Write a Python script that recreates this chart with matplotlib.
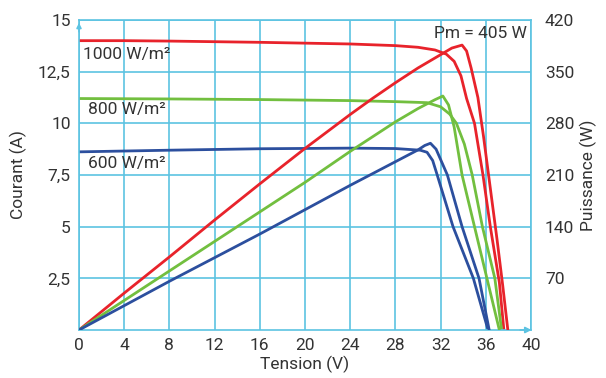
import matplotlib
matplotlib.use("Agg")
import matplotlib.pyplot as plt
from matplotlib import font_manager

# ---------------- data ----------------
# I-V curves (current in A)
v_iv_1000 = [0, 4, 8, 12, 16, 20, 24, 28, 30, 31.5, 32.5, 33.2, 33.8, 34.3, 35.0, 35.75, 36.4, 37.2, 37.6]
i_iv_1000 = [14.0, 14.0, 13.98, 13.95, 13.92, 13.88, 13.84, 13.76, 13.68, 13.55, 13.35, 13.0, 12.3, 11.2, 10.0, 7.5, 5.0, 2.3, 0]

v_iv_800 = [0, 8, 16, 24, 28, 30.8, 32.0, 32.8, 33.4, 34.1, 34.8, 35.7, 36.8, 37.4]
i_iv_800 = [11.2, 11.18, 11.15, 11.1, 11.05, 11.0, 10.8, 10.45, 10.0, 9.0, 7.5, 5.0, 2.5, 0]

v_iv_600 = [0, 8, 16, 24, 28, 30.2, 30.8, 31.3, 31.7, 33.1, 34.9, 36.2]
i_iv_600 = [8.62, 8.7, 8.77, 8.8, 8.78, 8.7, 8.6, 8.2, 7.5, 5.0, 2.5, 0]

# P-V curves (power in W)
v_p_1000 = [0, 4, 8, 12, 16, 20, 24, 26, 28, 30, 32, 33, 33.9, 34.3, 34.7, 35.3, 35.8, 36.4, 37.0, 37.5, 37.95]
p_p_1000 = [0, 50, 99, 149, 198, 246, 292, 314, 335, 355, 373, 382, 386, 378, 355, 315, 262, 192, 122, 60, 0]

v_p_800 = [0, 4, 8, 12, 16, 20, 24, 28, 30, 31.5, 32.2, 32.7, 33.2, 33.9, 35.0, 36.1, 37.2]
p_p_800 = [0, 40, 80, 120, 160, 200, 242, 282, 300, 312, 317, 305, 275, 210, 140, 70, 0]

v_p_600 = [0, 4, 8, 12, 16, 20, 24, 28, 30, 30.6, 31.1, 31.6, 32.6, 33.9, 35.4, 36.3]
p_p_600 = [0, 33, 66, 98, 130, 163, 196, 228, 244, 250, 253, 245, 210, 140, 70, 0]

x_ticks = [0, 4, 8, 12, 16, 20, 24, 28, 32, 36, 40]
y_ticks = [2.5, 5, 7.5, 10, 12.5, 15]
y_tick_labels = ["2,5", "5", "7,5", "10", "12,5", "15"]
p_ticks = [70, 140, 210, 280, 350, 420]

labels = ["1000 W/m²", "800 W/m²", "600 W/m²"]
pm_label = "Pm = 405 W"

# ---------------- style ----------------
avail = {f.name for f in font_manager.fontManager.ttflist}
fam = [f for f in ["Liberation Sans Narrow", "Roboto", "DejaVu Sans"] if f in avail]
plt.rcParams["font.family"] = fam

RED = "#e8232b"
GREEN = "#72bf3f"
BLUE = "#2c4f9e"
GRID = "#5cc3e2"
TXT = "#333333"
FS = 12.5

fig = plt.figure(figsize=(6.06, 3.78), dpi=100)
ax = fig.add_axes([79 / 606, 48 / 378, 452 / 606, 310 / 378])
ax.set_xlim(0, 40)
ax.set_ylim(0, 15)

ax.set_xticks(x_ticks)
ax.set_yticks(y_ticks)
ax.set_yticklabels(y_tick_labels)
ax.grid(True, color=GRID, linewidth=1.2)
ax.set_axisbelow(True)
for s in ax.spines.values():
    s.set_color(GRID)
    s.set_linewidth(1.2)
ax.tick_params(length=0, labelsize=FS, labelcolor=TXT, pad=6)

ax2 = ax.twinx()
ax2.set_ylim(0, 420)
ax2.set_yticks(p_ticks)
ax2.tick_params(length=0, labelsize=FS, labelcolor=TXT, pad=10)
for s in ax2.spines.values():
    s.set_visible(False)

lw = 2.0
ax.plot(v_iv_1000, i_iv_1000, color=RED, lw=lw, solid_joinstyle="round")
ax.plot(v_iv_800, i_iv_800, color=GREEN, lw=lw, solid_joinstyle="round")
ax.plot(v_iv_600, i_iv_600, color=BLUE, lw=lw, solid_joinstyle="round")
ax2.plot(v_p_1000, p_p_1000, color=RED, lw=lw, solid_joinstyle="round")
ax2.plot(v_p_800, p_p_800, color=GREEN, lw=lw, solid_joinstyle="round")
ax2.plot(v_p_600, p_p_600, color=BLUE, lw=lw, solid_joinstyle="round")

ax.text(0.35, 13.35, labels[0], fontsize=FS, color=TXT, va="center", ha="left")
ax.text(0.8, 10.65, labels[1], fontsize=FS, color=TXT, va="center", ha="left")
ax.text(0.8, 8.05, labels[2], fontsize=FS, color=TXT, va="center", ha="left")
ax.text(39.6, 14.35, pm_label, fontsize=FS, color=TXT, va="center", ha="right")

ax.set_xlabel("Tension (V)", fontsize=FS, color=TXT, labelpad=2)
ax.set_ylabel("Courant (A)", fontsize=FS, color=TXT, labelpad=8)
ax2.set_ylabel("Puissance (W)", fontsize=FS, color=TXT, labelpad=4)

# axis arrows
ax.annotate("", xy=(40.3, 0), xytext=(38.8, 0), xycoords="data",
            arrowprops=dict(arrowstyle="-|>", color=GRID, lw=1.2, mutation_scale=9),
            annotation_clip=False)
ax.annotate("", xy=(0, 15.0), xytext=(0, 14.3), xycoords="data",
            arrowprops=dict(arrowstyle="-|>", color=GRID, lw=1.2, mutation_scale=7),
            annotation_clip=False)

fig.savefig("out.png", dpi=100)
